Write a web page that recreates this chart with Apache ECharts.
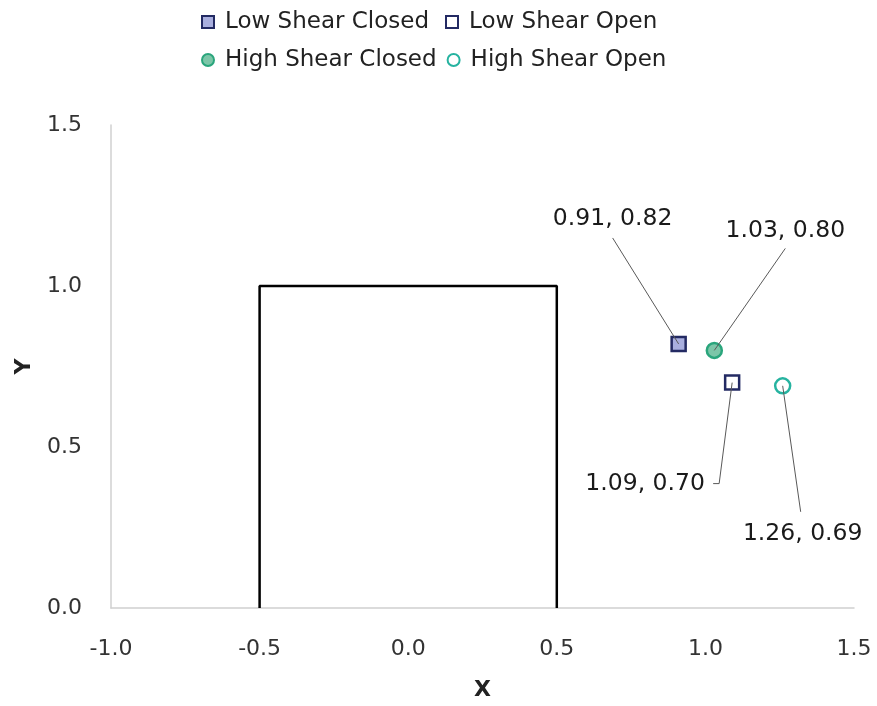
<!DOCTYPE html>
<html>
<head>
<meta charset="utf-8">
<script src="https://cdn.jsdelivr.net/npm/echarts@6/dist/echarts.min.js"></script>
<style>html,body{margin:0;padding:0;background:#fff}#c{width:877px;height:706px}</style>
</head>
<body>
<div id="c"></div>
<script>
const seriesNames = ['Low Shear Closed', 'Low Shear Open', 'High Shear Closed', 'High Shear Open'];
const lowShearClosed = [[0.91, 0.82]];
const lowShearOpen = [[1.09, 0.70]];
const highShearClosed = [[1.03, 0.80]];
const highShearOpen = [[1.26, 0.69]];
const boxOutline = [[-0.5, 0], [-0.5, 1.0], [0.5, 1.0], [0.5, 0]];
const xTicks = { min: -1.0, max: 1.5, step: 0.5 };
const yTicks = { min: 0.0, max: 1.5, step: 0.5 };

const FONT = 'DejaVu Sans';

// label placement styles (pixel offsets from the point): label centre, and leader path from label to point
const labelStyles = [
  { dx: -66, dy: -125, path: [[0, 19]] },
  { dx: -87, dy: 101, path: [[68, 0], [74, 0]] },
  { dx: 71, dy: -120, path: [[0, 18]] },
  { dx: 20, dy: 148, path: [[-2, -22]] }
];
const labelPoints = [lowShearClosed[0], lowShearOpen[0], highShearClosed[0], highShearOpen[0]];

function pointSeries(name, data, symbol, size, fill, border) {
  return {
    name: name,
    type: 'scatter',
    data: data,
    symbol: symbol,
    symbolSize: size,
    z: 5,
    itemStyle: { color: fill, borderColor: border, borderWidth: 2.5, opacity: 1 }
  };
}

const chart = echarts.init(document.getElementById('c'), null, { renderer: 'canvas' });
chart.setOption({
  animation: false,
  backgroundColor: '#ffffff',
  legend: {
    data: seriesNames,
    left: 196,
    top: 3,
    width: 520,
    orient: 'horizontal',
    itemWidth: 12,
    itemHeight: 12,
    itemGap: 10,
    textStyle: {
      fontFamily: FONT,
      fontSize: 23,
      color: '#222222',
      width: 210,
      lineHeight: 28,
      padding: [0, 0, 0, 6]
    }
  },
  grid: { left: 111, right: 23, top: 125, bottom: 97, containLabel: false },
  xAxis: {
    type: 'value',
    min: xTicks.min,
    max: xTicks.max,
    interval: xTicks.step,
    name: 'X',
    nameLocation: 'middle',
    nameGap: 71,
    nameTextStyle: { fontFamily: FONT, fontSize: 22, fontWeight: 'bold', color: '#222' },
    axisLine: { show: true, onZero: false, lineStyle: { color: '#d0d0d0', width: 1.5 } },
    axisTick: { show: false },
    splitLine: { show: false },
    axisLabel: {
      margin: 30,
      fontFamily: FONT,
      fontSize: 22,
      color: '#333333',
      formatter: v => v.toFixed(1)
    }
  },
  yAxis: {
    type: 'value',
    min: yTicks.min,
    max: yTicks.max,
    interval: yTicks.step,
    name: 'Y',
    nameLocation: 'middle',
    nameGap: 76,
    nameTextStyle: { fontFamily: FONT, fontSize: 22, fontWeight: 'bold', color: '#222' },
    axisLine: { show: true, onZero: false, lineStyle: { color: '#d0d0d0', width: 1.5 } },
    axisTick: { show: false },
    splitLine: { show: false },
    axisLabel: {
      margin: 29,
      fontFamily: FONT,
      fontSize: 22,
      color: '#333333',
      formatter: v => v.toFixed(1)
    }
  },
  series: [
    {
      name: 'Box',
      type: 'line',
      data: boxOutline,
      showSymbol: false,
      silent: true,
      z: 2,
      lineStyle: { color: '#000000', width: 2.5 }
    },
    pointSeries(seriesNames[0], lowShearClosed, 'rect', 14, '#a9afdf', '#232a63'),
    pointSeries(seriesNames[1], lowShearOpen, 'rect', 14, '#ffffff', '#232a63'),
    pointSeries(seriesNames[2], highShearClosed, 'circle', 15, '#7cc6a8', '#2aa57c'),
    pointSeries(seriesNames[3], highShearOpen, 'circle', 15, '#ffffff', '#26b3a0'),
    {
      name: 'Data labels',
      type: 'custom',
      data: labelPoints,
      z: 6,
      silent: true,
      renderItem: function (params, api) {
        const i = params.dataIndex;
        const v = [api.value(0), api.value(1)];
        const p = api.coord(v);
        const s = labelStyles[i];
        const cx = p[0] + s.dx, cy = p[1] + s.dy;
        const pts = s.path.map(o => [cx + o[0], cy + o[1]]);
        pts.push([p[0], p[1]]);
        return {
          type: 'group',
          children: [
            {
              type: 'polyline',
              shape: { points: pts },
              style: { stroke: '#595959', lineWidth: 1, fill: null }
            },
            {
              type: 'text',
              x: cx, y: cy,
              style: {
                text: v[0].toFixed(2) + ', ' + v[1].toFixed(2),
                fill: '#1a1a1a',
                font: '23.5px "' + FONT + '"',
                align: 'center',
                verticalAlign: 'middle'
              }
            }
          ]
        };
      }
    }
  ]
});
</script>
</body>
</html>
